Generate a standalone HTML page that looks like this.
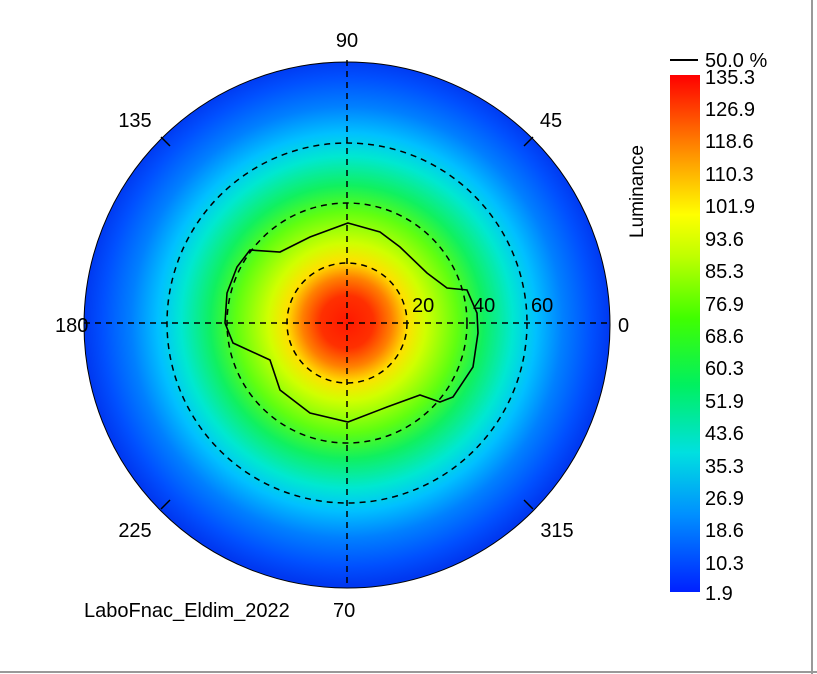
<!DOCTYPE html>
<html><head><meta charset="utf-8"><style>
body{margin:0;width:817px;height:674px;background:#fff;overflow:hidden;font-family:"Liberation Sans",sans-serif;}
</style></head><body>
<svg width="817" height="674" viewBox="0 0 817 674" style="position:absolute;left:0;top:0">
<defs>
<radialGradient id="hg" cx="347" cy="322" r="263" gradientUnits="userSpaceOnUse">
<stop offset="0" stop-color="#ff1800"/>
<stop offset="0.1" stop-color="#ff3000"/>
<stop offset="0.17" stop-color="#ff8000"/>
<stop offset="0.23" stop-color="#ffe000"/>
<stop offset="0.3" stop-color="#d0ff00"/>
<stop offset="0.42" stop-color="#60ff10"/>
<stop offset="0.52" stop-color="#10f060"/>
<stop offset="0.63" stop-color="#00e8d0"/>
<stop offset="0.72" stop-color="#00c0ff"/>
<stop offset="0.82" stop-color="#0080ff"/>
<stop offset="0.93" stop-color="#0050ff"/>
<stop offset="1" stop-color="#0038f0"/>
</radialGradient>
<linearGradient id="cb" x1="0" y1="1" x2="0" y2="0">
<stop offset="0" stop-color="#0020ff"/>
<stop offset="0.15" stop-color="#0090ff"/>
<stop offset="0.27" stop-color="#00e0e0"/>
<stop offset="0.4" stop-color="#00f060"/>
<stop offset="0.53" stop-color="#40ff00"/>
<stop offset="0.65" stop-color="#c0ff00"/>
<stop offset="0.73" stop-color="#ffff00"/>
<stop offset="0.85" stop-color="#ff9000"/>
<stop offset="1" stop-color="#ff0000"/>
</linearGradient>
</defs>
<line x1="0" y1="672" x2="817" y2="672" stroke="#999" stroke-width="2"/>
<line x1="812" y1="0" x2="812" y2="674" stroke="#999" stroke-width="2"/>
<circle cx="347" cy="325" r="263" fill="url(#hg)"/>
<circle cx="347" cy="325" r="263" fill="none" stroke="#000" stroke-width="1"/>
<g fill="none" stroke="#000" stroke-width="1.5" stroke-dasharray="6,5">
<circle cx="347" cy="323" r="60"/>
<circle cx="347" cy="323" r="120"/>
<circle cx="347" cy="323" r="180"/>
<line x1="84" y1="323" x2="610" y2="323"/>
<line x1="347" y1="60" x2="347" y2="588"/>
</g>
<g stroke="#000" stroke-width="1.5">
<line x1="161" y1="137" x2="170" y2="146"/><line x1="533" y1="137" x2="524" y2="146"/>
<line x1="161" y1="509" x2="170" y2="500"/><line x1="533" y1="509" x2="524" y2="500"/>
</g>
<polygon fill="none" stroke="#000" stroke-width="1.6" points="348,223 380,232 400,247 427,273 447,288 467,290 477,313 478,333 473,367 453,397 440,402 420,395 387,407 348,422 310,413 280,390 270,360 233,343 225,323 227,293 237,267 250,250 280,252 310,237"/>
<g font-size="20" fill="#000">
<text x="347" y="47" text-anchor="middle">90</text>
<text x="135" y="127" text-anchor="middle">135</text>
<text x="551" y="127" text-anchor="middle">45</text>
<text x="55" y="332">180</text>
<text x="618" y="332">0</text>
<text x="135" y="537" text-anchor="middle">225</text>
<text x="557" y="537" text-anchor="middle">315</text>
<text x="412" y="312">20</text>
<text x="473" y="312">40</text>
<text x="531" y="312">60</text>
<text x="84" y="617">LaboFnac_Eldim_2022</text>
<text x="333" y="617">70</text>
</g>
<rect x="670" y="75" width="30" height="517" fill="url(#cb)"/>
<line x1="670" y1="60" x2="698" y2="60" stroke="#000" stroke-width="2"/>
<text x="705" y="67" font-size="20">50.0 %</text>
<text transform="translate(643,238) rotate(-90)" font-size="19">Luminance</text>
<g font-size="20" fill="#000">
<text x="705" y="84">135.3</text><text x="705" y="116">126.9</text><text x="705" y="148">118.6</text>
<text x="705" y="181">110.3</text><text x="705" y="213">101.9</text><text x="705" y="246">93.6</text>
<text x="705" y="278">85.3</text><text x="705" y="311">76.9</text><text x="705" y="343">68.6</text>
<text x="705" y="375">60.3</text><text x="705" y="408">51.9</text><text x="705" y="440">43.6</text>
<text x="705" y="473">35.3</text><text x="705" y="505">26.9</text><text x="705" y="537">18.6</text>
<text x="705" y="570">10.3</text><text x="705" y="600">1.9</text>
</g>
</svg>
</body></html>
